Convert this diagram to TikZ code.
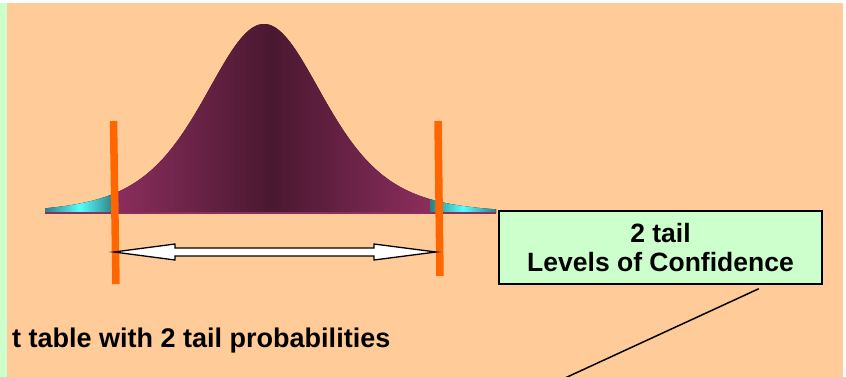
\documentclass[tikz,border=0pt]{standalone}
\usepackage{fontspec}
\setmainfont{Liberation Sans}
\usetikzlibrary{calc}
\definecolor{peach}{HTML}{FFCC99}
\definecolor{mint}{HTML}{CCFFCC}
\definecolor{magL}{HTML}{8C2E5E}
\definecolor{magD}{HTML}{4A1830}
\definecolor{tealD}{HTML}{2E7F82}
\definecolor{cyanB}{HTML}{55FFFF}
\definecolor{orangeL}{HTML}{FF6600}
\tikzset{
  cutline/.style={draw=orangeL, line width=7.5pt},
  labelbox/.style={draw=black, line width=1.5pt, fill=mint, minimum width=323pt, minimum height=73pt, inner sep=0pt, align=center, font=\bfseries\fontsize{26.5}{29}\selectfont},
  caption/.style={inner sep=0pt, anchor=base west, font=\bfseries\fontsize{27}{30}\selectfont},
  pointer/.style={draw=black, line width=1.5pt},
  tailfill/.style={left color=tealD, right color=tealD, middle color=cyanB},
  bodyfill/.style={left color=magL, right color=magL, middle color=magD},
  declare function={bell(\x)=213-189/((1+((\x-264)/63)^2/5)^3);}
}
\begin{document}
\begin{tikzpicture}[x=1pt,y=-1pt]
\useasboundingbox (0,0) rectangle (846,377);
\fill[white] (0,0) rectangle (846,377);
\fill[mint] (0,3) rectangle (7,377);
\fill[peach] (7,3) rectangle (843,377);
% bell curve body
\fill[bodyfill] (113,213) -- plot[domain=113:431,samples=160] (\x,{bell(\x)}) -- (431,213) -- cycle;
% tails
\fill[tailfill] (45,213) -- plot[domain=45:114,samples=50] (\x,{bell(\x)}) -- (114,213) -- cycle;
\fill[tailfill] (430,213) -- plot[domain=430:496,samples=50] (\x,{bell(\x)}) -- (496,213) -- cycle;
\draw[magL, line width=1.5pt] (45,213) -- (496,213);
% cut lines
\coordinate (l1t) at (113.5,121);
\coordinate (l1b) at (116,284);
\coordinate (l2t) at (438,121);
\coordinate (l2b) at (440,276);
\draw[cutline] (l1t) -- (l1b);
\draw[cutline] (l2t) -- (l2b);
% double arrow
\coordinate (aL) at (114,252);
\coordinate (aR) at (436,252);
\draw[black, line width=1.3pt, fill=white, line join=miter]
  (aL) -- ($(aL)+(61,-8)$) -- ($(aL)+(61,-4)$) -- ($(aR)+(-62,-4)$) -- ($(aR)+(-62,-8)$)
  -- (aR) -- ($(aR)+(-62,8)$) -- ($(aR)+(-62,4)$) -- ($(aL)+(61,4)$) -- ($(aL)+(61,8)$) -- cycle;
% box
\node[labelbox] (box) at (660.5,247.5) {2 tail\\Levels of Confidence};
% caption
\node[caption] (cap) at (12,347) {t table with 2 tail probabilities};
% pointer
\coordinate (pend) at (565,378);
\draw[pointer] ([shift={(-64,4)}]box.south east) -- (pend);
\end{tikzpicture}
\end{document}
